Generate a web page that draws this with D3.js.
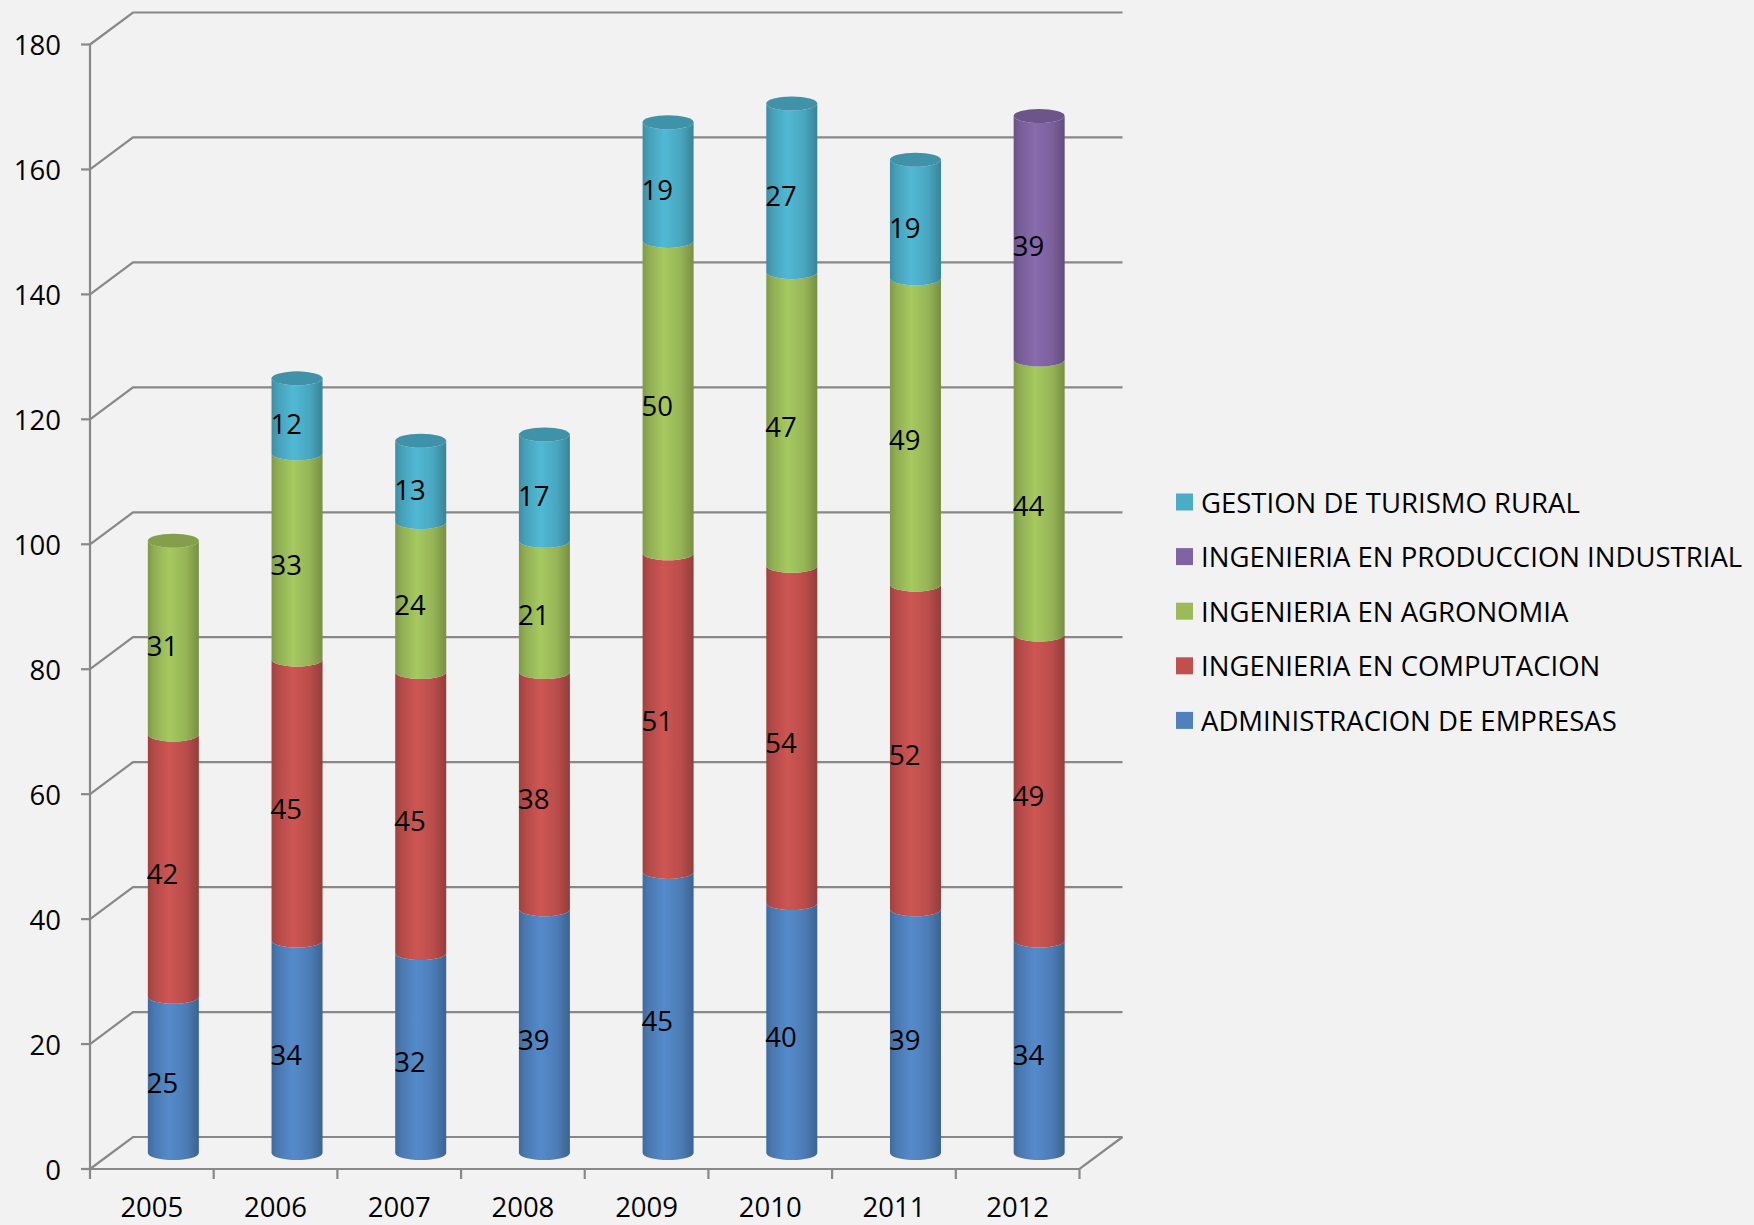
<!DOCTYPE html>
<html><head><meta charset="utf-8">
<script src="https://cdn.jsdelivr.net/npm/d3@7"></script>
<style>
html,body{margin:0;padding:0;background:#F2F2F2;}
svg{display:block;}
text{font-family:"Open Sans",sans-serif;fill:#000;}
</style></head>
<body>
<svg id="chart" width="1754" height="1225"></svg>
<script>
const categories = ["2005","2006","2007","2008","2009","2010","2011","2012"];
const seriesNames = ["ADMINISTRACION DE EMPRESAS","INGENIERIA EN COMPUTACION","INGENIERIA EN AGRONOMIA","INGENIERIA EN PRODUCCION INDUSTRIAL","GESTION DE TURISMO RURAL"];
const administracion = [25,34,32,39,45,40,39,34];
const computacion   = [42,45,45,38,51,54,52,49];
const agronomia     = [31,33,24,21,50,47,49,44];
const produccion    = [0,0,0,0,0,0,0,39];
const turismo       = [0,12,13,17,19,27,19,0];
const seriesColors = ["#4F81BD","#C0504D","#9BBB59","#8064A2","#4BACC6"];
const yTicks = [0,20,40,60,80,100,120,140,160,180];
const legendOrder = [4,3,2,1,0];

const seriesValues = [administracion, computacion, agronomia, produccion, turismo];

const svg = d3.select("#chart");
const W = 1754, H = 1225;
svg.append("rect").attr("width",W).attr("height",H).attr("fill","#F2F2F2");

const x0 = 90, x1 = 1079.5, yBase = 1169, yTop = 44.5;
const dx = 43, dy = -32;
const x = d3.scaleBand().domain(categories).range([x0,x1]).padding(0);
const y = d3.scaleLinear().domain([0,180]).range([yBase,yTop]);
const gridColor = "#888888";

const fontSize = 27.5;

const grid = svg.append("g");
yTicks.forEach(t=>{
  const yy = y(t);
  grid.append("path")
    .attr("d", `M${x0},${yy} L${x0+dx},${yy+dy} L${x1+dx},${yy+dy}`)
    .attr("fill","none").attr("stroke",gridColor).attr("stroke-width",2.2);
});
grid.append("path").attr("d",`M${x0},${yBase} L${x1},${yBase} L${x1+dx},${yBase+dy}`)
  .attr("fill","none").attr("stroke",gridColor).attr("stroke-width",2.2);
grid.append("line").attr("x1",x0).attr("x2",x0).attr("y1",yTop).attr("y2",yBase)
  .attr("stroke",gridColor).attr("stroke-width",2.2);
yTicks.forEach(t=>{
  grid.append("line").attr("x1",x0-9).attr("x2",x0).attr("y1",y(t)).attr("y2",y(t))
    .attr("stroke",gridColor).attr("stroke-width",2.2);
  svg.append("text").attr("x",x0-29).attr("y",y(t)).attr("text-anchor","end")
    .attr("dominant-baseline","central").attr("font-size",fontSize).text(t);
});
categories.concat(["_end"]).forEach((c,i)=>{
  const xx = x0 + i*x.bandwidth();
  grid.append("line").attr("x1",xx).attr("x2",xx).attr("y1",yBase).attr("y2",yBase+10)
    .attr("stroke",gridColor).attr("stroke-width",2.2);
});
categories.forEach(c=>{
  svg.append("text").attr("x",x(c)+x.bandwidth()/2).attr("y",1206)
    .attr("text-anchor","middle").attr("dominant-baseline","central")
    .attr("font-size",fontSize).text(c);
});

const defs = svg.append("defs");
seriesColors.forEach((col,i)=>{
  const c = d3.color(col);
  const g = defs.append("linearGradient").attr("id","grad"+i)
    .attr("x1","0%").attr("x2","100%").attr("y1","0%").attr("y2","0%");
  g.append("stop").attr("offset","0%").attr("stop-color", c.darker(0.55));
  g.append("stop").attr("offset","12%").attr("stop-color", c.darker(0.2));
  g.append("stop").attr("offset","42%").attr("stop-color", c.brighter(0.2));
  g.append("stop").attr("offset","75%").attr("stop-color", c.darker(0.1));
  g.append("stop").attr("offset","100%").attr("stop-color", c.darker(0.75));
});

const rx = 25.5, ry = 7;
const barsG = svg.append("g");
const labelsG = svg.append("g");
categories.forEach((c,ci)=>{
  const cx = x(c) + x.bandwidth()/2 + dx/2;
  let cum = 0;
  let lastTop = null, lastSeries = null;
  seriesValues.forEach((vals,si)=>{
    const v = vals[ci];
    if(!v) return;
    const yb = y(cum) + dy/2;
    const yt = y(cum+v) + dy/2;
    const xl = cx - rx, xr = cx + rx;
    barsG.append("path")
      .attr("d",`M${xl},${yt} A${rx},${ry} 0 0 0 ${xr},${yt} L${xr},${yb} A${rx},${ry} 0 0 1 ${xl},${yb} Z`)
      .attr("fill",`url(#grad${si})`);
    labelsG.append("text")
      .attr("x", x(c) + x.bandwidth()/2 + dx/4)
      .attr("y", y(cum + v/2) + dy/4)
      .attr("text-anchor","middle").attr("dominant-baseline","central")
      .attr("font-size",fontSize).text(v);
    cum += v;
    lastTop = yt; lastSeries = si;
  });
  if(lastTop!==null){
    const col = d3.color(seriesColors[lastSeries]);
    barsG.append("ellipse").attr("cx",cx).attr("cy",lastTop).attr("rx",rx).attr("ry",ry)
      .attr("fill", col.darker(0.45));
  }
});

const legend = svg.append("g");
const legY0 = 502, legStep = 54.6;
legendOrder.forEach((si,k)=>{
  const yy = legY0 + k*legStep;
  legend.append("rect").attr("x",1176).attr("y",yy-8.5).attr("width",17).attr("height",17)
    .attr("fill",seriesColors[si]);
  legend.append("text").attr("x",1201).attr("y",yy).attr("dominant-baseline","central")
    .attr("font-size",fontSize).text(seriesNames[si]);
});
</script>
</body></html>
